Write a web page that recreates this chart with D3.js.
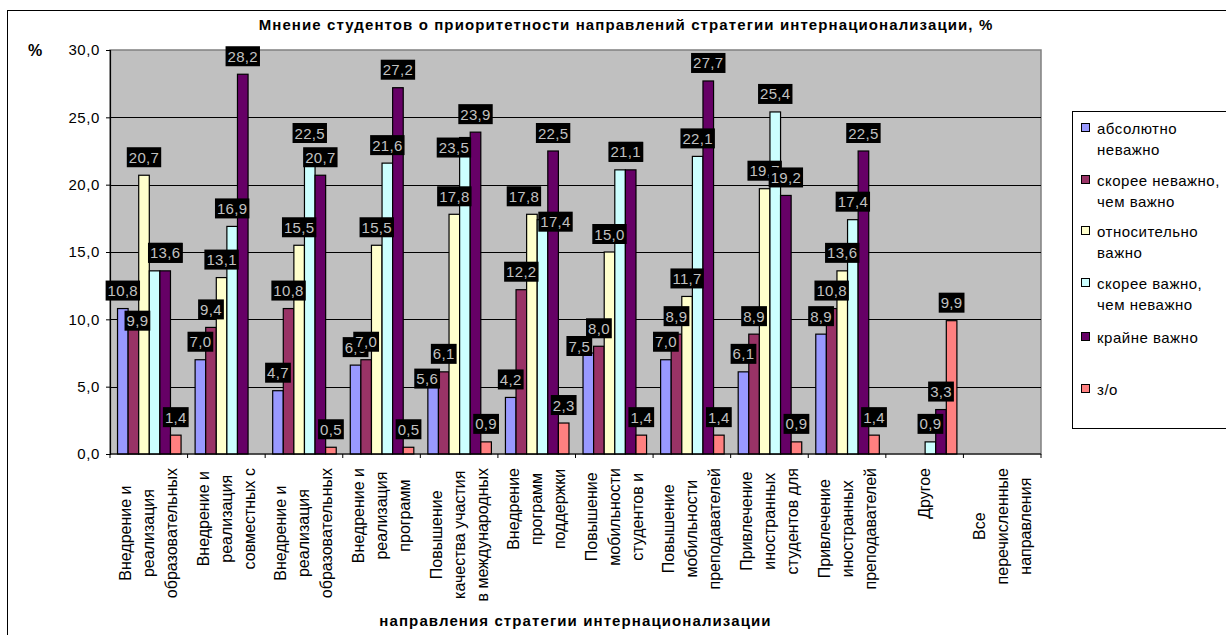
<!DOCTYPE html>
<html>
<head>
<meta charset="utf-8">
<script src="https://cdn.jsdelivr.net/npm/d3@7"></script>
<style>
  body { margin: 0; background: #fff; }
  svg { display: block; font-family: Arial, "Liberation Sans", sans-serif; }
</style>
</head>
<body>
<div id="chart"></div>
<script>
// Chart data
var categoryLines = [
  ["Внедрение и", "реализация", "образовательных"],
  ["Внедрение и", "реализация", "совместных с"],
  ["Внедрение и", "реализация", "образовательных"],
  ["Внедрение и", "реализация", "программ"],
  ["Повышение", "качества участия", "в международных"],
  ["Внедрение", "программ", "поддержки"],
  ["Повышение", "мобильности", "студентов и"],
  ["Повышение", "мобильности", "преподавателей"],
  ["Привлечение", "иностранных", "студентов для"],
  ["Привлечение", "иностранных", "преподавателей"],
  ["Другое"],
  ["Все", "перечисленные", "направления"]
];
var seriesNames = [
  ["абсолютно", "неважно"],
  ["скорее неважно,", "чем важно"],
  ["относительно", "важно"],
  ["скорее важно,", "чем неважно"],
  ["крайне важно"],
  ["з/о"]
];
var seriesColors = ["#9999FF", "#993366", "#FFFFCC", "#CCFFFF", "#660066", "#FF8080"];

var absNevazhno  = [10.8, 7.0, 4.7, 6.6, 5.6, 4.2, 7.5, 7.0, 6.1, 8.9, 0, 0];
var skoreeNevazh = [9.9, 9.4, 10.8, 7.0, 6.1, 12.2, 8.0, 8.9, 8.9, 10.8, 0, 0];
var otnositelno  = [20.7, 13.1, 15.5, 15.5, 17.8, 17.8, 15.0, 11.7, 19.7, 13.6, 0, 0];
var skoreeVazhno = [13.6, 16.9, 22.5, 21.6, 23.5, 17.4, 21.1, 22.1, 25.4, 17.4, 0.9, 0];
var krainVazhno  = [13.6, 28.2, 20.7, 27.2, 23.9, 22.5, 21.1, 27.7, 19.2, 22.5, 3.3, 0];
var zo           = [1.4, 0, 0.5, 0.5, 0.9, 2.3, 1.4, 1.4, 0.9, 1.4, 9.9, 0];
var seriesValues = [absNevazhno, skoreeNevazh, otnositelno, skoreeVazhno, krainVazhno, zo];

var yTicks = [0, 5, 10, 15, 20, 25, 30];

var titleText = "Мнение студентов о приоритетности направлений стратегии интернационализации, %";
var xTitleText = "направления стратегии интернационализации";

// Layout
var W = 1226, H = 635;
var plot = {left: 110, right: 1041, top: 50, bottom: 454};
var fmt = function(v) { return d3.format(".1f")(v).replace(".", ","); };

// a few data labels were dragged away from the default spot in the original ("series-category": [dx, dy])
var labelNudge = {
  "1-0": [4, 18], "3-0": [11, 0],
  "0-4": [-6, 18], "3-4": [-11, 28],
  "2-5": [-8, 0], "3-5": [13, 20],
  "0-6": [-9, 11], "3-6": [6, 0], "4-6": [-5, 0]
};

var svg = d3.select("#chart").append("svg")
  .attr("width", W).attr("height", H);

// outer chart border
svg.append("rect")
  .attr("x", 7.5).attr("y", 10.5).attr("width", 1300).attr("height", 700)
  .attr("fill", "#fff").attr("stroke", "#000").attr("stroke-width", 1);

var x0 = d3.scaleBand().domain(d3.range(categoryLines.length))
  .range([plot.left, plot.right]).padding(0);
var bw = x0.bandwidth();
var x1 = d3.scaleBand().domain(d3.range(seriesValues.length))
  .range([bw * 0.097, bw * 0.916]).padding(0);
var y = d3.scaleLinear().domain([0, 30]).range([plot.bottom, plot.top]);

// plot background
svg.append("rect")
  .attr("x", plot.left).attr("y", plot.top)
  .attr("width", plot.right - plot.left).attr("height", plot.bottom - plot.top)
  .attr("fill", "#C0C0C0").attr("stroke", "#808080").attr("stroke-width", 1.5);

// gridlines
svg.append("g").selectAll("line")
  .data(yTicks.filter(function(d) { return d > 0 && d < 30; }))
  .enter().append("line")
  .attr("x1", plot.left).attr("x2", plot.right)
  .attr("y1", function(d) { return Math.round(y(d)) + 0.5; })
  .attr("y2", function(d) { return Math.round(y(d)) + 0.5; })
  .attr("stroke", "#000").attr("stroke-width", 1);

// bars (zero values are not drawn, but keep their slot)
seriesValues.forEach(function(vals, si) {
  var pts = vals.map(function(v, ci) { return {v: v, ci: ci}; })
    .filter(function(d) { return d.v > 0; });
  svg.append("g").attr("fill", seriesColors[si])
    .selectAll("rect").data(pts).enter().append("rect")
    .attr("x", function(d) { return x0(d.ci) + x1(si); })
    .attr("y", function(d) { return y(d.v); })
    .attr("width", x1.bandwidth())
    .attr("height", function(d) { return y(0) - y(d.v); })
    .attr("stroke", "#000").attr("stroke-width", 1.2);
});

// y axis
var yAxis = d3.axisLeft(y).tickValues(yTicks).tickFormat(fmt).tickSize(4).tickPadding(6);
var yg = svg.append("g").attr("transform", "translate(" + plot.left + ",0)").call(yAxis);
yg.select(".domain").attr("stroke", "#000").attr("stroke-width", 1.2);
yg.selectAll(".tick line").attr("stroke", "#000");
yg.selectAll("text").attr("font-size", 15).attr("fill", "#000")
  .attr("font-family", "Arial, 'Liberation Sans', sans-serif").attr("letter-spacing", 0.6);

// x axis with ticks at category boundaries
var xg = svg.append("g");
xg.append("line").attr("x1", plot.left).attr("x2", plot.right)
  .attr("y1", plot.bottom).attr("y2", plot.bottom).attr("stroke", "#000").attr("stroke-width", 1.2);
xg.selectAll(".xt").data(d3.range(categoryLines.length + 1)).enter().append("line")
  .attr("x1", function(d) { return plot.left + d * bw; })
  .attr("x2", function(d) { return plot.left + d * bw; })
  .attr("y1", plot.bottom).attr("y2", plot.bottom + 4).attr("stroke", "#000");

// category labels (rotated, one text per line)
categoryLines.forEach(function(lines, ci) {
  var cx = x0(ci) + bw / 2;
  var g = svg.append("g");
  var texts = g.selectAll("text").data(lines).enter().append("text")
    .attr("font-size", 16).attr("fill", "#000")
    .attr("text-anchor", "middle").attr("dominant-baseline", "central")
    .text(function(d) { return d; });
  var maxLen = 0;
  texts.each(function() { maxLen = Math.max(maxLen, this.getComputedTextLength()); });
  var cy = 468 + maxLen / 2;
  texts.attr("transform", function(d, li) {
    var lx = cx + (li - (lines.length - 1) / 2) * 23;
    return "translate(" + lx + "," + cy + ") rotate(-90)";
  });
});

// data labels (series order, drawn over bars)
seriesValues.forEach(function(vals, si) {
  vals.forEach(function(v, ci) {
    if (!(v > 0)) return;
    var nd = labelNudge[si + "-" + ci] || [0, 0];
    var cx = x0(ci) + x1(si) + x1.bandwidth() / 2 + nd[0];
    var cy = y(v) - 18 + nd[1];
    var g = svg.append("g");
    var t = g.append("text")
      .attr("x", cx).attr("y", cy)
      .attr("text-anchor", "middle").attr("dominant-baseline", "central")
      .attr("font-size", 15).attr("fill", "#C0C0C0").attr("letter-spacing", 0.3)
      .text(fmt(v));
    var tw = t.node().getComputedTextLength();
    g.insert("rect", "text")
      .attr("x", cx - tw / 2 - 2).attr("y", cy - 10)
      .attr("width", tw + 4).attr("height", 20).attr("fill", "#000");
  });
});

// titles
svg.append("text").attr("x", 626).attr("y", 30).attr("text-anchor", "middle")
  .attr("font-size", 15).attr("font-weight", "bold").attr("letter-spacing", 1.1).text(titleText);
svg.append("text").attr("x", plot.left + (plot.right - plot.left) / 2).attr("y", 626)
  .attr("text-anchor", "middle").attr("font-size", 15).attr("font-weight", "bold")
  .attr("letter-spacing", 1.1).text(xTitleText);
svg.append("text").attr("x", 28).attr("y", 56)
  .attr("font-size", 16).attr("font-weight", "bold").text("%");

// legend
var leg = svg.append("g");
leg.append("rect").attr("x", 1072.5).attr("y", 111.5).attr("width", 300).attr("height", 317)
  .attr("fill", "#fff").attr("stroke", "#000").attr("stroke-width", 1);
var rowY = [128, 180, 231, 283, 337, 389];
seriesNames.forEach(function(lines, si) {
  leg.append("rect").attr("x", 1081.5).attr("y", rowY[si] - 4.5)
    .attr("width", 8).attr("height", 8)
    .attr("fill", seriesColors[si]).attr("stroke", "#000").attr("stroke-width", 1);
  lines.forEach(function(line, li) {
    leg.append("text").attr("x", 1097).attr("y", rowY[si] + li * 21)
      .attr("dominant-baseline", "central").attr("font-size", 15)
      .attr("letter-spacing", 0.5).text(line);
  });
});
</script>
</body>
</html>
